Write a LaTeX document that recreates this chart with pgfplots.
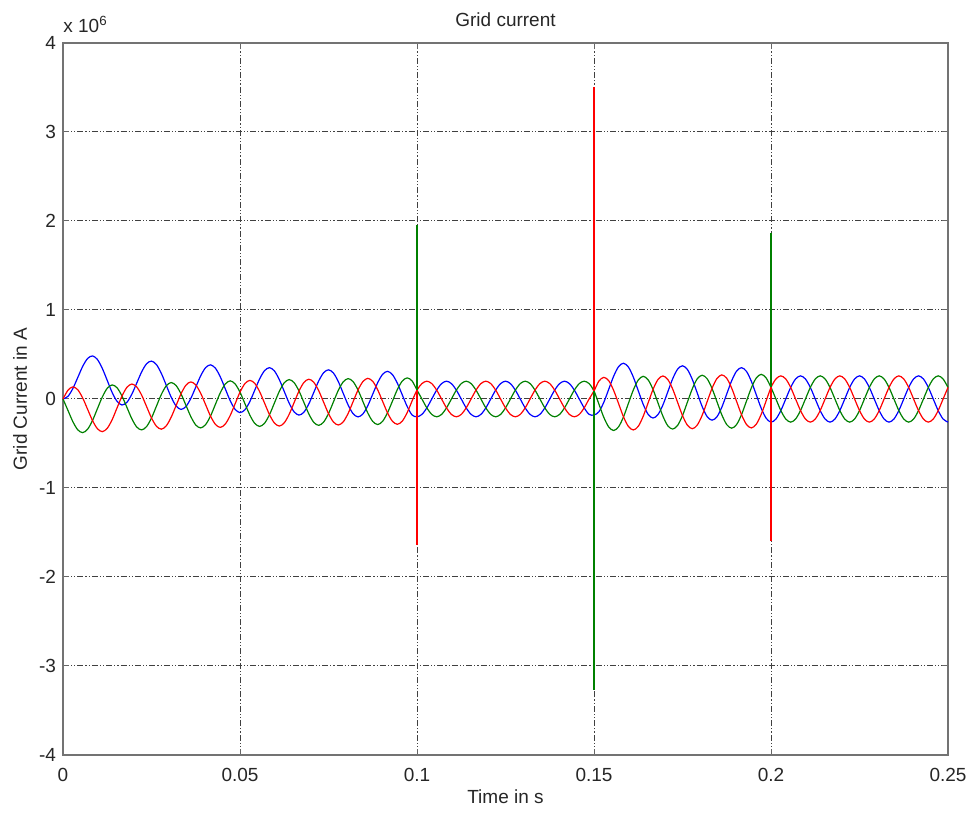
\documentclass[border=0pt]{standalone}
\usepackage{fontspec}
\setmainfont{Liberation Sans}
\usepackage{pgfplots}
\pgfplotsset{compat=1.18}
\usepackage{pgfplotstable}

\definecolor{mblue}{rgb}{0,0,1}
\definecolor{mgreen}{rgb}{0,0.5,0}
\definecolor{mred}{rgb}{1,0,0}

% n = sample index (1/720 s per sample), B/R/G = current in 10^6 A
\pgfplotstableread{
n B R G
0 0.000 0.000 0.000
1 0.029 0.098 -0.127
2 0.117 0.136 -0.254
3 0.241 0.104 -0.346
4 0.366 0.012 -0.378
5 0.455 -0.115 -0.340
6 0.484 -0.242 -0.242
7 0.444 -0.334 -0.109
8 0.343 -0.367 0.023
9 0.208 -0.329 0.121
10 0.073 -0.232 0.158
11 -0.027 -0.099 0.126
12 -0.067 0.033 0.033
13 -0.037 0.131 -0.094
14 0.054 0.168 -0.222
15 0.179 0.135 -0.315
16 0.305 0.043 -0.347
17 0.396 -0.085 -0.310
18 0.426 -0.213 -0.213
19 0.387 -0.306 -0.081
20 0.288 -0.339 0.051
21 0.155 -0.302 0.148
22 0.021 -0.205 0.185
23 -0.078 -0.074 0.151
24 -0.117 0.058 0.058
25 -0.085 0.155 -0.070
26 0.007 0.192 -0.198
27 0.133 0.158 -0.292
28 0.260 0.065 -0.325
29 0.352 -0.063 -0.288
30 0.384 -0.192 -0.192
31 0.346 -0.285 -0.060
32 0.248 -0.319 0.071
33 0.115 -0.282 0.168
34 -0.018 -0.186 0.204
35 -0.116 -0.055 0.170
36 -0.153 0.077 0.077
37 -0.121 0.173 -0.052
38 -0.029 0.209 -0.181
39 0.099 0.176 -0.274
40 0.227 0.082 -0.308
41 0.319 -0.047 -0.272
42 0.352 -0.176 -0.176
43 0.315 -0.270 -0.045
44 0.217 -0.304 0.086
45 0.085 -0.268 0.182
46 -0.047 -0.172 0.218
47 -0.144 -0.041 0.184
48 -0.181 0.090 0.090
49 -0.148 0.186 -0.039
50 -0.055 0.222 -0.168
51 0.073 0.188 -0.262
52 0.202 0.094 -0.296
53 0.295 -0.035 -0.260
54 0.328 -0.164 -0.164
55 0.292 -0.258 -0.033
56 0.195 -0.292 0.098
57 0.063 -0.257 0.193
58 -0.068 -0.161 0.229
59 -0.165 -0.030 0.195
60 -0.201 0.101 0.101
61 -0.168 0.196 -0.029
62 -0.074 0.232 -0.158
63 0.055 0.198 -0.252
64 0.183 0.103 -0.287
65 0.277 -0.026 -0.251
66 0.311 -0.155 -0.155
67 0.274 -0.250 -0.025
68 0.178 -0.284 0.106
69 0.047 -0.249 0.201
70 -0.084 -0.153 0.237
71 -0.180 -0.022 0.203
72 -0.200 0.100 0.100
73 -0.173 0.173 0.000
74 -0.100 0.200 -0.100
75 0.000 0.173 -0.173
76 0.100 0.100 -0.200
77 0.173 0.000 -0.173
78 0.200 -0.100 -0.100
79 0.173 -0.173 0.000
80 0.100 -0.200 0.100
81 0.000 -0.173 0.173
82 -0.100 -0.100 0.200
83 -0.173 0.000 0.173
84 -0.200 0.100 0.100
85 -0.173 0.173 0.000
86 -0.100 0.200 -0.100
87 0.000 0.173 -0.173
88 0.100 0.100 -0.200
89 0.173 0.000 -0.173
90 0.200 -0.100 -0.100
91 0.173 -0.173 0.000
92 0.100 -0.200 0.100
93 0.000 -0.173 0.173
94 -0.100 -0.100 0.200
95 -0.173 0.000 0.173
96 -0.200 0.100 0.100
97 -0.173 0.173 0.000
98 -0.100 0.200 -0.100
99 0.000 0.173 -0.173
100 0.100 0.100 -0.200
101 0.173 0.000 -0.173
102 0.200 -0.100 -0.100
103 0.173 -0.173 0.000
104 0.100 -0.200 0.100
105 0.000 -0.173 0.173
106 -0.100 -0.100 0.200
107 -0.173 0.000 0.173
108 -0.180 0.090 0.090
109 -0.143 0.202 -0.058
110 -0.036 0.243 -0.207
111 0.110 0.205 -0.315
112 0.257 0.096 -0.354
113 0.364 -0.052 -0.312
114 0.402 -0.201 -0.201
115 0.359 -0.309 -0.049
116 0.246 -0.348 0.102
117 0.093 -0.307 0.213
118 -0.059 -0.195 0.255
119 -0.172 -0.044 0.216
120 -0.214 0.107 0.107
121 -0.176 0.218 -0.042
122 -0.069 0.259 -0.191
123 0.079 0.220 -0.300
124 0.227 0.112 -0.338
125 0.335 -0.037 -0.297
126 0.373 -0.186 -0.186
127 0.331 -0.295 -0.035
128 0.219 -0.334 0.116
129 0.067 -0.293 0.227
130 -0.085 -0.183 0.267
131 -0.197 -0.032 0.228
132 -0.238 0.119 0.119
133 -0.200 0.230 -0.030
134 -0.092 0.271 -0.179
135 0.057 0.232 -0.288
136 0.205 0.122 -0.328
137 0.314 -0.027 -0.287
138 0.352 -0.176 -0.176
139 0.311 -0.285 -0.025
140 0.199 -0.325 0.125
141 0.048 -0.284 0.236
142 -0.103 -0.173 0.277
143 -0.215 -0.023 0.237
144 -0.260 0.130 0.130
145 -0.225 0.225 0.000
146 -0.130 0.260 -0.130
147 0.000 0.225 -0.225
148 0.130 0.130 -0.260
149 0.225 0.000 -0.225
150 0.260 -0.130 -0.130
151 0.225 -0.225 0.000
152 0.130 -0.260 0.130
153 0.000 -0.225 0.225
154 -0.130 -0.130 0.260
155 -0.225 0.000 0.225
156 -0.260 0.130 0.130
157 -0.225 0.225 0.000
158 -0.130 0.260 -0.130
159 0.000 0.225 -0.225
160 0.130 0.130 -0.260
161 0.225 0.000 -0.225
162 0.260 -0.130 -0.130
163 0.225 -0.225 0.000
164 0.130 -0.260 0.130
165 0.000 -0.225 0.225
166 -0.130 -0.130 0.260
167 -0.225 0.000 0.225
168 -0.260 0.130 0.130
169 -0.225 0.225 0.000
170 -0.130 0.260 -0.130
171 0.000 0.225 -0.225
172 0.130 0.130 -0.260
173 0.225 0.000 -0.225
174 0.260 -0.130 -0.130
175 0.225 -0.225 0.000
176 0.130 -0.260 0.130
177 0.000 -0.225 0.225
178 -0.130 -0.130 0.260
179 -0.225 0.000 0.225
180 -0.260 0.130 0.130
}\gridcur

\begin{document}
\begin{tikzpicture}
\begin{axis}[
  scale only axis, width=442.5pt, height=356pt,
  xmin=0, xmax=180, ymin=-4, ymax=4,
  clip=false,
  xtick={0,36,72,108,144,180},
  xticklabels={0,0.05,0.1,0.15,0.2,0.25},
  ytick={-4,-3,-2,-1,0,1,2,3,4},
  yticklabels={-4,-3,-2,-1,0,1,2,3,4},
  tick align=inside, major tick length=3pt,
  tick style={black!60, line width=0.5pt},
  axis line style={black!55, line width=0.8pt},
  grid=major,
  major grid style={black!75, line width=0.5pt, dash pattern=on 3pt off 1pt on 0.6pt off 1pt on 0.6pt off 1pt},
  font=\fontsize{9.5}{11}\selectfont,
  ticklabel style={font=\fontsize{9.5}{11}\selectfont, text=black!85},
  xticklabel style={yshift=-3.3pt},
  title={Grid current},
  title style={at={(axis description cs:0.5,1.0323)}, anchor=center, yshift=-6pt, text=black!85},
  xlabel={Time in s},
  xlabel style={at={(axis description cs:0.5,-0.059)}, anchor=center, text=black!85},
  ylabel={Grid Current in A},
  ylabel style={at={(axis description cs:-0.0486,0.5)}, anchor=center, text=black!85},
]
\addplot[mblue, line width=0.6pt, smooth, tension=0.5] table[x=n, y=B] {\gridcur};
\addplot[mgreen, line width=0.6pt, smooth, tension=0.5] table[x=n, y=G] {\gridcur};
\addplot[mred, line width=0.6pt, smooth, tension=0.5] table[x=n, y=R] {\gridcur};
% switching spikes
\addplot[mgreen, line width=0.6pt] coordinates {(72,0.1) (72,1.95)};
\addplot[mred, line width=0.6pt] coordinates {(72,0.1) (72,-1.64)};
\addplot[mred, line width=0.6pt] coordinates {(108,0.09) (108,3.5)};
\addplot[mgreen, line width=0.6pt] coordinates {(108,0.09) (108,-3.27)};
\addplot[mgreen, line width=0.6pt] coordinates {(144,0.13) (144,1.86)};
\addplot[mred, line width=0.6pt] coordinates {(144,0.13) (144,-1.6)};
\node[anchor=base west, inner sep=0pt, text=black!85, font=\fontsize{9.5}{11}\selectfont] at ([yshift=5pt]rel axis cs:0,1) {x 10\textsuperscript{6}};
\coordinate (sw) at (rel axis cs:0,0);
\coordinate (ne) at (rel axis cs:1,1);
\end{axis}
\pgfresetboundingbox
\path ([shift={(-31.5pt,-28.5pt)}]sw) rectangle ([shift={(12pt,21.5pt)}]ne);
\end{tikzpicture}
\end{document}
